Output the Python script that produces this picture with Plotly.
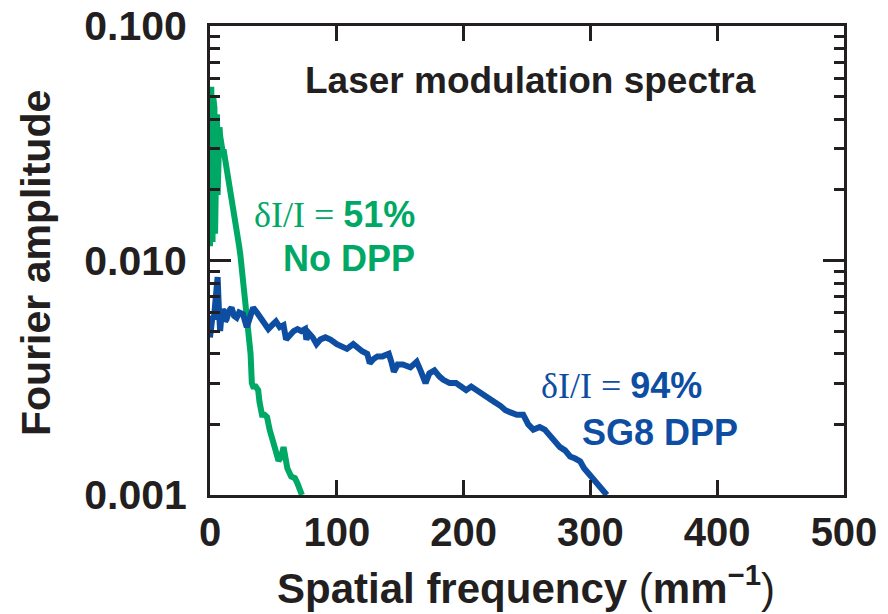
import plotly.graph_objects as go

# ---- data ----
nodpp_x = [0, 0.5, 1, 1.5, 2, 2.5, 3, 3.5, 4, 4.5, 5, 5.5, 6, 6.5, 7, 7.5, 8, 9, 10, 11, 12, 13, 14,
           15.5, 17, 18.5, 20, 21.5, 23, 24, 25, 26, 27, 28, 29, 30, 31, 32, 33, 34, 36, 38, 39, 41,
           43, 45, 47, 49, 51, 54, 56, 58, 59, 61, 64, 67, 69, 71, 72.5]
nodpp_y = [0.0115, 0.025, 0.055, 0.030, 0.012, 0.050, 0.020, 0.045, 0.013, 0.040, 0.022, 0.042,
           0.019, 0.036, 0.028, 0.037, 0.034, 0.031, 0.029, 0.029, 0.027, 0.025, 0.023, 0.021,
           0.019, 0.017, 0.015, 0.013, 0.0115, 0.0105, 0.0094, 0.0082, 0.0072, 0.0066, 0.0060,
           0.0056, 0.0048, 0.0040, 0.0030, 0.0029, 0.0029, 0.0028, 0.0025, 0.0022, 0.0022,
           0.00215, 0.0019, 0.0017, 0.0016, 0.0014, 0.00145, 0.0016, 0.0015, 0.0013, 0.0012,
           0.00118, 0.00112, 0.00105, 0.00100]

sg8_x = [0, 1, 2, 3, 4, 5, 6, 7, 8, 9, 10, 11, 12, 13, 15, 17, 19, 21, 23, 26, 29, 31, 34, 37, 40,
         43, 46, 49, 52, 55, 58, 60, 63, 66, 69, 72, 75, 76, 78, 81, 84, 87, 91, 95, 100, 104, 108,
         113, 117, 120, 124, 126, 129, 132, 136, 141, 143, 145, 148, 152, 158, 163, 166, 170, 173,
         177, 181, 184, 189, 194, 198, 202, 206, 210, 215, 220, 224, 229, 233, 237, 242, 247, 251,
         255, 260, 264, 268, 272, 276, 280, 284, 288, 292, 295, 297, 300, 302, 305, 308, 310, 313]
sg8_y = [0.0047, 0.0052, 0.0058, 0.0056, 0.0068, 0.0080, 0.0085, 0.0062, 0.0050, 0.0058, 0.0062,
         0.0060, 0.0055, 0.0056, 0.0061, 0.0063, 0.0058, 0.0057, 0.0060, 0.0059, 0.0052, 0.0056,
         0.0063, 0.0060, 0.0057, 0.0053, 0.0051, 0.0053, 0.0055, 0.0052, 0.0053, 0.0046, 0.0048,
         0.0050, 0.0051, 0.0050, 0.0051, 0.0046, 0.0049, 0.0047, 0.0044, 0.0046, 0.0047, 0.0046,
         0.0044, 0.0043, 0.0042, 0.0044, 0.0042, 0.0041, 0.0040, 0.00365, 0.0038, 0.0039, 0.0039,
         0.0040, 0.0037, 0.00335, 0.0036, 0.0036, 0.0035, 0.0037, 0.0034, 0.0030, 0.0033, 0.0034,
         0.0032, 0.0031, 0.0030, 0.0030, 0.0029, 0.0028, 0.0029, 0.0028, 0.0027, 0.00255, 0.0025,
         0.0024, 0.0023, 0.00225, 0.0022, 0.0022, 0.0020, 0.0019, 0.00195, 0.0019, 0.0018, 0.0017,
         0.0016, 0.00155, 0.00146, 0.00143, 0.00139, 0.0013, 0.00126, 0.0012, 0.00116, 0.00112,
         0.00108, 0.00104, 0.0010]

x_ticks = [0, 100, 200, 300, 400, 500]
y_ticks = [0.001, 0.01, 0.1]
y_ticktext = ["0.001", "0.010", "0.100"]
y_minor = [0.002, 0.003, 0.004, 0.005, 0.006, 0.007, 0.008, 0.009,
           0.02, 0.03, 0.04, 0.05, 0.06, 0.07, 0.08, 0.09]

GREEN = "rgb(0,168,102)"
BLUE = "rgb(14,78,162)"
INK = "#231F20"
SANS = "Arial, Liberation Sans, sans-serif"
SERIF = "Liberation Serif, Times New Roman, serif"

fig = go.Figure()
fig.add_trace(go.Scatter(x=nodpp_x, y=nodpp_y, mode="lines",
                         line=dict(color=GREEN, width=6), showlegend=False))
fig.add_trace(go.Scatter(x=sg8_x, y=sg8_y, mode="lines",
                         line=dict(color=BLUE, width=6), showlegend=False))

W, H = 888, 614
L, R, T, B = 210, 44, 26, 119


def px(xp):
    return (xp - L) / (W - L - R)


def py(yp):
    return (H - B - yp) / (H - T - B)


annos = [
    dict(text="<b>Laser modulation spectra</b>", x=px(530), y=py(81), xanchor="center",
         font=dict(size=37, color=INK, family=SANS)),
    dict(text=f"<span style='font-family:{SERIF}'>δI/I = </span><b>51%</b>", x=px(416), y=py(214),
         xanchor="right", font=dict(size=36, color=GREEN, family=SANS)),
    dict(text="<b>No DPP</b>", x=px(416), y=py(258), xanchor="right",
         font=dict(size=36, color=GREEN, family=SANS)),
    dict(text=f"<span style='font-family:{SERIF}'>δI/I = </span><b>94%</b>", x=px(540), y=py(385),
         xanchor="left", font=dict(size=36, color=BLUE, family=SANS)),
    dict(text="<b>SG8 DPP</b>", x=px(581), y=py(432), xanchor="left",
         font=dict(size=36, color=BLUE, family=SANS)),
    dict(text="<b>Fourier amplitude</b>", x=px(36), y=py(263), xanchor="center", textangle=-90,
         font=dict(size=41, color=INK, family=SANS)),
    dict(text="<b>Spatial frequency </b><span style='font-weight:normal'>(</span><b>mm<sup>−1</sup></b><span style='font-weight:normal'>)</span>",
         x=px(526), y=py(585), xanchor="center",
         font=dict(size=42, color=INK, family=SANS)),
]
for a in annos:
    a.update(xref="paper", yref="paper", yanchor="middle", showarrow=False, borderpad=0)

fig.update_layout(
    width=W, height=H,
    margin=dict(l=L, r=R, t=T, b=B, autoexpand=False),
    paper_bgcolor="white", plot_bgcolor="white",
    annotations=annos,
    xaxis=dict(range=[0, 500], tickvals=x_ticks, ticks="inside", ticklen=15, tickwidth=3,
               tickcolor=INK, showline=True, linewidth=3, linecolor=INK, mirror="ticks",
               showgrid=False, zeroline=False, ticklabelstandoff=0, automargin=False,
               tickfont=dict(size=40, color=INK, family=SANS, weight="bold")),
    yaxis=dict(type="log", range=[-3, -1], tickvals=y_ticks, ticktext=y_ticktext,
               ticks="inside", ticklen=21, tickwidth=3, tickcolor=INK,
               showline=True, linewidth=3, linecolor=INK, mirror="ticks",
               showgrid=False, zeroline=False, ticklabelstandoff=12, automargin=False,
               minor=dict(tickvals=y_minor, ticks="inside", ticklen=10, tickwidth=3,
                          tickcolor=INK, showgrid=False),
               tickfont=dict(size=41, color=INK, family=SANS, weight="bold")),
)

fig.write_html("out.html")
